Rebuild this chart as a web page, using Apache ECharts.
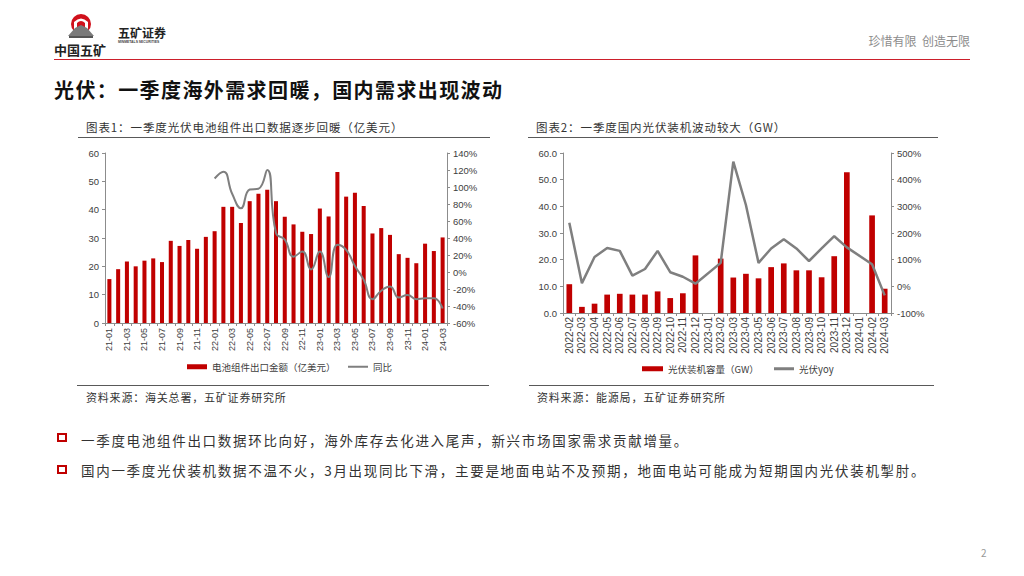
<!DOCTYPE html>
<html>
<head>
<meta charset="utf-8">
<script src="https://cdn.jsdelivr.net/npm/echarts@6/dist/echarts.min.js"></script>
<style>
  html,body{margin:0;padding:0;background:#fff;}
  body{width:1024px;height:576px;position:relative;overflow:hidden;font-family:"Noto Sans CJK SC","Noto Sans",sans-serif;}
  .abs{position:absolute;white-space:nowrap;}
  .hl{position:absolute;height:1px;}
  .bullet{position:absolute;width:6px;height:5px;border:2px solid #c00000;}
</style>
</head>
<body>
<div id="chart" style="position:absolute;left:0;top:0;width:1024px;height:576px;"></div>

<!-- logo -->
<svg class="abs" style="left:60px;top:12px;" width="44" height="30" viewBox="0 0 44 30">
  <circle cx="21" cy="12" r="10" fill="#d0101b"/>
  <path d="M14,17 L14,10 Q21,3 28,10 L28,17 Z" fill="#fff"/>
  <path d="M17,17 L17,11 Q21,7 25,11 L25,17 Z" fill="#d0101b"/>
  <path d="M8,24 L15,16 L21,13 L27,16 L34,24 Z" fill="#7a7a7a"/>
  <rect x="9" y="24" width="24" height="2" fill="#555"/>
</svg>
<div class="abs" style="left:54px;top:42px;font-size:13px;font-weight:bold;color:#222;line-height:16px;">中国五矿</div>
<div class="abs" style="left:118px;top:26px;font-size:12px;font-weight:bold;color:#222;line-height:14px;">五矿证券</div>
<div class="abs" style="left:118px;top:40px;font-size:3.4px;font-weight:bold;color:#444;line-height:4px;font-family:'Liberation Sans',sans-serif;">MINMETALS SECURITIES</div>
<div class="abs" style="right:54px;top:33px;font-size:12px;color:#8c8c8c;line-height:16px;">珍惜有限&nbsp;&nbsp;创造无限</div>
<div class="hl" style="left:54px;top:59px;width:916px;background:#cc1f2b;"></div>

<!-- title -->
<div class="abs" style="left:54px;top:76px;font-size:20px;font-weight:bold;color:#111;line-height:28px;letter-spacing:1.4px;">光伏：一季度海外需求回暖，国内需求出现波动</div>

<!-- chart titles -->
<div class="abs" style="left:86px;top:119px;font-size:11.5px;color:#333;line-height:16px;letter-spacing:0.9px;">图表1：一季度光伏电池组件出口数据逐步回暖（亿美元）</div>
<div class="abs" style="left:536px;top:119px;font-size:11.5px;color:#333;line-height:16px;letter-spacing:0.9px;">图表2：一季度国内光伏装机波动较大（GW）</div>
<div class="hl" style="left:78px;top:137px;width:412px;background:#595959;"></div>
<div class="hl" style="left:528px;top:137px;width:410px;background:#595959;"></div>

<!-- sources -->
<div class="hl" style="left:77px;top:385px;width:412px;background:#595959;"></div>
<div class="hl" style="left:529px;top:385px;width:405px;background:#595959;"></div>
<div class="abs" style="left:86px;top:389px;font-size:11px;color:#333;line-height:16px;letter-spacing:0.8px;">资料来源：海关总署，五矿证券研究所</div>
<div class="abs" style="left:537px;top:389px;font-size:11px;color:#333;line-height:16px;letter-spacing:0.8px;">资料来源：能源局，五矿证券研究所</div>

<!-- bullets -->
<div class="bullet" style="left:57px;top:433px;"></div>
<div class="abs" style="left:81px;top:431px;font-size:13.5px;color:#333;line-height:18px;letter-spacing:1.7px;">一季度电池组件出口数据环比向好，海外库存去化进入尾声，新兴市场国家需求贡献增量。</div>
<div class="bullet" style="left:57px;top:465px;"></div>
<div class="abs" style="left:81px;top:461px;font-size:13.5px;color:#333;line-height:18px;letter-spacing:1.7px;">国内一季度光伏装机数据不温不火，3月出现同比下滑，主要是地面电站不及预期，地面电站可能成为短期国内光伏装机掣肘。</div>

<div class="abs" style="left:981px;top:546px;font-size:10px;color:#999;line-height:14px;">2</div>

<script>
// ---- Chart 1 data: 电池组件出口金额（亿美元） & 同比 ----
var months1 = ['21-01','21-02','21-03','21-04','21-05','21-06','21-07','21-08','21-09','21-10','21-11','21-12',
               '22-01','22-02','22-03','22-04','22-05','22-06','22-07','22-08','22-09','22-10','22-11','22-12',
               '23-01','23-02','23-03','23-04','23-05','23-06','23-07','23-08','23-09','23-10','23-11','23-12',
               '24-01','24-02','24-03'];
var exportValue = [15.5,19.0,21.7,20.0,22.0,22.8,21.5,29.0,27.2,29.3,26.2,30.4,
                   32.4,41.0,41.0,35.3,43.0,45.6,47.0,43.0,37.5,34.8,32.2,31.4,
                   40.4,37.6,53.3,44.6,46.0,41.3,31.6,33.5,31.1,24.3,23.0,21.1,
                   28.0,25.4,30.2];
var exportYoY = [null,null,null,null,null,null,null,null,null,null,null,null,
                 110,118,92,75,97,98,120,46,38,18,24,3,
                 24,-6,32,26,7,-9,-32,-22,-17,-30,-27,-32,
                 -31,-31,-43];
var leftTicks1 = {min:0, max:60, interval:10};
var rightTicks1 = {min:-60, max:140, interval:20};

// ---- Chart 2 data: 光伏装机容量（GW） & 光伏yoy ----
var months2 = ['2022-02','2022-03','2022-04','2022-05','2022-06','2022-07','2022-08','2022-09','2022-10','2022-11','2022-12',
               '2023-01','2023-02','2023-03','2023-04','2023-05','2023-06','2023-07','2023-08','2023-09','2023-10','2023-11','2023-12',
               '2024-01','2024-02','2024-03'];
var pvCapacity = [10.8,2.3,3.5,6.9,7.2,6.9,6.9,8.1,5.6,7.4,21.6,
                  null,20.4,13.3,14.7,13.0,17.2,18.6,16.0,16.0,13.4,21.3,52.8,
                  null,36.6,9.1];
var pvYoY = [238,12,110,144,133,40,65,133,53,36,10,
             null,88,468,305,88,142,177,142,95,142,188,146,
             null,83,-34];
var leftTicks2 = {min:0, max:60, interval:10};
var rightTicks2 = {min:-100, max:500, interval:100};

var RED = '#c00000', GRAY = '#7f7f7f', AX = '#8c8c8c', LBL = '#404040';
var NUMFONT = '"Liberation Sans","Noto Sans CJK SC",sans-serif';

function valAxis(gridIndex, t, fmt, pos) {
  return {
    type:'value', gridIndex:gridIndex, position:pos, min:t.min, max:t.max, interval:t.interval,
    splitLine:{show:false},
    axisLine:{show:true, lineStyle:{color:AX, width:1}},
    axisTick:{show:true, length:3, lineStyle:{color:AX}},
    axisLabel:{color:LBL, fontSize:9.5, fontFamily:NUMFONT, margin:6, formatter:fmt}
  };
}
var legendText = {fontSize:9.5, color:'#404040'};

var chart = echarts.init(document.getElementById('chart'), null, {renderer:'svg'});
chart.setOption({
  animation:false,
  textStyle:{fontFamily:'"Noto Sans CJK SC",sans-serif'},
  grid:[
    {left:105, top:153, width:342, height:170},
    {left:563, top:153, width:328, height:160}
  ],
  legend:[
    {left:182, top:357, icon:'rect', itemWidth:20, itemHeight:5, textStyle:legendText, data:['电池组件出口金额（亿美元）']},
    {left:343, top:357, icon:'rect', itemWidth:20, itemHeight:2, textStyle:legendText, data:['同比']},
    {left:637, top:359, icon:'rect', itemWidth:21, itemHeight:5, textStyle:legendText, data:['光伏装机容量（GW）']},
    {left:769, top:359, icon:'rect', itemWidth:20, itemHeight:3, textStyle:legendText, data:['光伏yoy']}
  ],
  xAxis:[
    {type:'category', gridIndex:0, data:months1,
     axisLine:{lineStyle:{color:AX}}, axisTick:{show:true, length:3, interval:0, lineStyle:{color:AX}},
     axisLabel:{interval:1, rotate:90, fontSize:9, color:LBL, fontFamily:NUMFONT, margin:5}},
    {type:'category', gridIndex:1, data:months2,
     axisLine:{lineStyle:{color:AX}}, axisTick:{show:true, length:3, interval:0, lineStyle:{color:AX}},
     axisLabel:{interval:0, rotate:90, fontSize:10, color:LBL, fontFamily:NUMFONT, margin:4}}
  ],
  yAxis:[
    valAxis(0, leftTicks1, '{value}', 'left'),
    valAxis(0, rightTicks1, '{value}%', 'right'),
    valAxis(1, leftTicks2, function(v){return v.toFixed(1);}, 'left'),
    valAxis(1, rightTicks2, '{value}%', 'right')
  ],
  series:[
    {name:'电池组件出口金额（亿美元）', type:'bar', xAxisIndex:0, yAxisIndex:0, data:exportValue,
     barWidth:'46%', itemStyle:{color:RED}},
    {name:'同比', type:'line', xAxisIndex:0, yAxisIndex:1, data:exportYoY, smooth:0.5,
     symbol:'none', lineStyle:{color:GRAY, width:2}, itemStyle:{color:GRAY}},
    {name:'光伏装机容量（GW）', type:'bar', xAxisIndex:1, yAxisIndex:2, data:pvCapacity,
     barWidth:'45%', itemStyle:{color:RED}},
    {name:'光伏yoy', type:'line', xAxisIndex:1, yAxisIndex:3, data:pvYoY, connectNulls:true,
     symbol:'none', lineStyle:{color:GRAY, width:2.5}, itemStyle:{color:GRAY}}
  ]
});
</script>
</body>
</html>
